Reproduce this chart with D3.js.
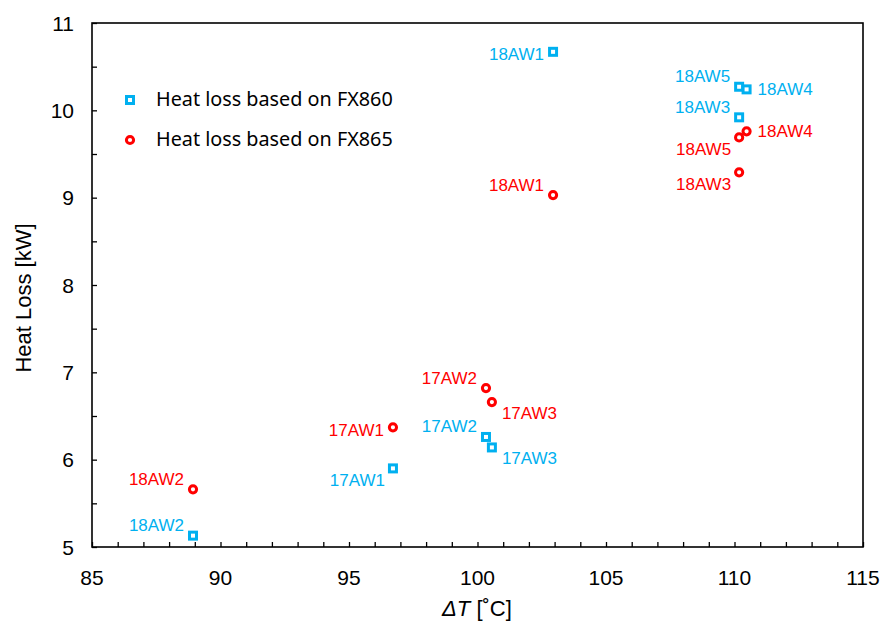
<!DOCTYPE html>
<html>
<head>
<meta charset="utf-8">
<script src="https://cdn.jsdelivr.net/npm/d3@7"></script>
<style>
  body { margin: 0; background: #fff; }
  svg { display: block; }
</style>
</head>
<body>
<div id="chart"></div>
<script>
// data
var names = ['18AW2', '17AW1', '17AW2', '17AW3', '18AW1', '18AW5', '18AW4', '18AW3'];
var deltaT = [88.93, 96.71, 100.33, 100.56, 102.94, 110.18, 110.47, 110.18];
var lossFX860 = [5.13, 5.90, 6.26, 6.14, 10.67, 10.27, 10.24, 9.92];
var lossFX865 = [5.66, 6.37, 6.82, 6.66, 9.03, 9.69, 9.76, 9.29];
var xTicks = [85, 90, 95, 100, 105, 110, 115];
var yTicks = [5, 6, 7, 8, 9, 10, 11];
var legendLabels = ['Heat loss based on FX860', 'Heat loss based on FX865'];

// where each data label sits relative to its marker
var placeFX860 = ['ul', 'dl', 'ul', 'dr', 'l', 'ul', 'r', 'ul'];
var placeFX865 = ['ul', 'l', 'ul', 'dr', 'ul', 'dl', 'r', 'dl'];

var width = 883, height = 623;
var margin = { top: 23, right: 20, bottom: 76, left: 92 };

var svg = d3.select('#chart').append('svg')
    .attr('width', width)
    .attr('height', height);

var x = d3.scaleLinear().domain([85, 115]).range([margin.left, width - margin.right]);
var y = d3.scaleLinear().domain([5, 11]).range([height - margin.bottom, margin.top]);

var blue = '#00B0F0', red = '#FF0000';
var font = "'Liberation Sans', Arial, sans-serif";

// ticks (inside)
svg.append('g')
    .attr('transform', 'translate(0,' + y(5) + ')')
    .call(d3.axisBottom(x).tickValues(d3.range(85, 116, 1)).tickSize(-5).tickFormat(''))
    .call(g => g.select('.domain').remove())
    .selectAll('line').attr('stroke', '#000').attr('stroke-width', 1.3);

svg.append('g')
    .attr('transform', 'translate(' + x(85) + ',0)')
    .call(d3.axisLeft(y).tickValues(d3.range(5, 11.01, 0.5)).tickSize(-5).tickFormat(''))
    .call(g => g.select('.domain').remove())
    .selectAll('line').attr('stroke', '#000').attr('stroke-width', 1.3);

// frame
svg.append('rect')
    .attr('x', x(85)).attr('y', y(11))
    .attr('width', x(115) - x(85)).attr('height', y(5) - y(11))
    .attr('fill', 'none').attr('stroke', '#000').attr('stroke-width', 1.6);

// tick labels
svg.append('g').selectAll('text')
    .data(xTicks).join('text')
    .attr('x', d => x(d)).attr('y', y(5) + 38)
    .attr('text-anchor', 'middle')
    .style('font-family', font).style('font-size', '21px')
    .text(d => d);

svg.append('g').selectAll('text')
    .data(yTicks).join('text')
    .attr('x', x(85) - 18).attr('y', d => y(d) + 7.5)
    .attr('text-anchor', 'end')
    .style('font-family', font).style('font-size', '21px')
    .text(d => d);

// axis titles
var xt = svg.append('text')
    .attr('x', 477).attr('y', 616)
    .attr('text-anchor', 'middle')
    .style('font-family', font).style('font-size', '22px');
xt.append('tspan').style('font-style', 'italic').text('ΔT');
xt.append('tspan').text(' [˚C]');

svg.append('text')
    .attr('transform', 'translate(31,298) rotate(-90)')
    .attr('text-anchor', 'middle')
    .style('font-family', font).style('font-size', '22px')
    .text('Heat Loss [kW]');

function labelOffset(p) {
    if (p === 'ul') return { dx: -9, dy: -10, anchor: 'end' };
    if (p === 'dl') return { dx: -8, dy: 12, anchor: 'end' };
    if (p === 'dr') return { dx: 10, dy: 11, anchor: 'start' };
    if (p === 'r') return { dx: 11, dy: 0, anchor: 'start' };
    return { dx: -9, dy: 3, anchor: 'end' };
}

var pts860 = names.map((n, i) => ({ name: n, x: deltaT[i], y: lossFX860[i], place: placeFX860[i] }));
var pts865 = names.map((n, i) => ({ name: n, x: deltaT[i], y: lossFX865[i], place: placeFX865[i] }));

// markers
svg.append('g').selectAll('rect')
    .data(pts860).join('rect')
    .attr('x', d => x(d.x) - 3.5).attr('y', d => y(d.y) - 3.5)
    .attr('width', 7).attr('height', 7)
    .attr('fill', '#fff').attr('stroke', blue).attr('stroke-width', 3);

svg.append('g').selectAll('circle')
    .data(pts865).join('circle')
    .attr('cx', d => x(d.x)).attr('cy', d => y(d.y))
    .attr('r', 3.6)
    .attr('fill', '#fff').attr('stroke', red).attr('stroke-width', 3);

// data labels
function drawLabels(pts, color) {
    svg.append('g').selectAll('text')
        .data(pts).join('text')
        .attr('x', d => x(d.x) + labelOffset(d.place).dx)
        .attr('y', d => y(d.y) + labelOffset(d.place).dy)
        .attr('text-anchor', d => labelOffset(d.place).anchor)
        .attr('dominant-baseline', 'central')
        .attr('fill', color)
        .style('font-family', font).style('font-size', '17px')
        .text(d => d.name);
}
drawLabels(pts860, blue);
drawLabels(pts865, red);

// legend
var legend = svg.append('g');
legend.append('rect')
    .attr('x', 126.5).attr('y', 96.5).attr('width', 7).attr('height', 7)
    .attr('fill', '#fff').attr('stroke', blue).attr('stroke-width', 3);
legend.append('circle')
    .attr('cx', 130).attr('cy', 140).attr('r', 3.6)
    .attr('fill', '#fff').attr('stroke', red).attr('stroke-width', 3);
legend.selectAll('text')
    .data(legendLabels).join('text')
    .attr('x', 156).attr('y', (d, i) => 98 + i * 40)
    .attr('dominant-baseline', 'central')
    .style('font-family', "'Noto Sans', 'Open Sans', sans-serif").style('font-size', '19.8px')
    .text(d => d);
</script>
</body>
</html>
